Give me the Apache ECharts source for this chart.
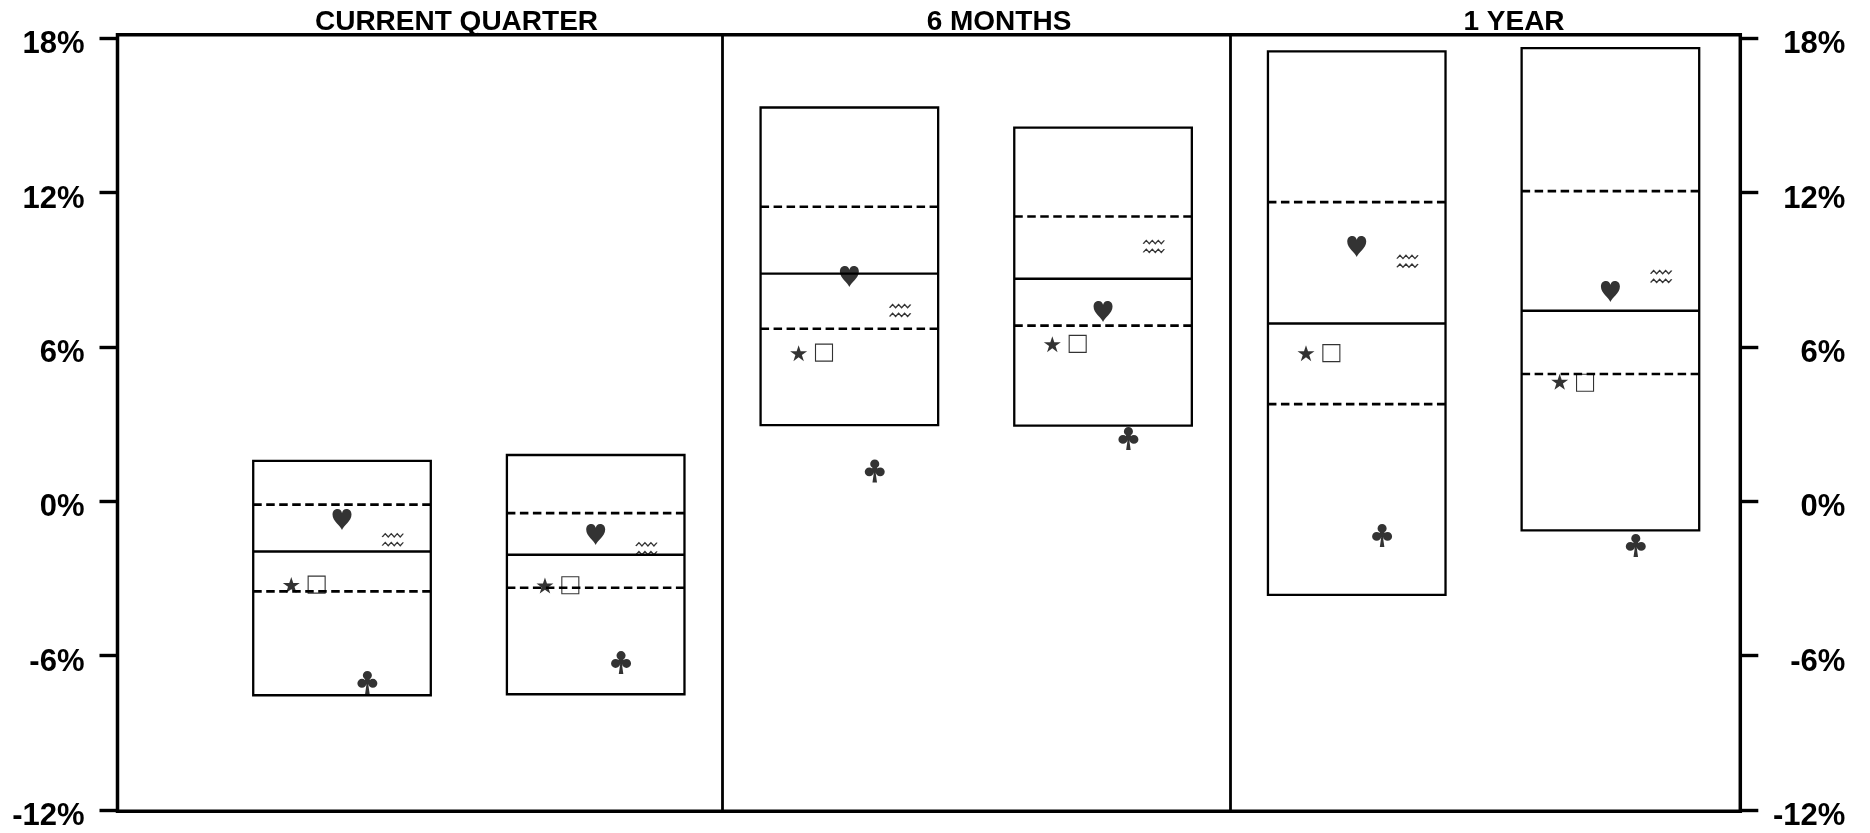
<!DOCTYPE html>
<html>
<head>
<meta charset="utf-8">
<script src="https://cdn.jsdelivr.net/npm/echarts@6/dist/echarts.min.js"></script>
<style>
  html, body { margin: 0; padding: 0; background: #fff; }
  #chart { width: 1870px; height: 833px; }
</style>
</head>
<body>
<div id="chart"></div>
<script>
// ---------- data ----------
const periods = ['CURRENT QUARTER', '6 MONTHS', '1 YEAR'];
const boxX = [1, 2, 3, 4, 5, 6];               // two boxes per period
const p5  = [-7.54, -7.50, 2.96, 2.94, -3.64, -1.13];
const p25 = [-3.50, -3.36, 6.71, 6.83, 3.78, 4.95];
const p50 = [-1.95, -2.08, 8.85, 8.65, 6.91, 7.41];
const p75 = [-0.13, -0.46, 11.45, 11.07, 11.63, 12.06];
const p95 = [1.57, 1.80, 15.31, 14.53, 17.49, 17.62];

const heartVals  = [-0.71, -1.29, 8.74, 7.38, 9.91, 8.16];
const waveVals   = [-1.49, -1.84, 7.42, 9.91, 9.33, 8.74];
const starVals   = [-3.25, -3.27, 5.76, 6.11, 5.76, 4.65];
const squareVals = [-3.24, -3.26, 5.78, 6.12, 5.76, 4.61];
const clubVals   = [-7.04, -6.27, 1.18, 2.44, -1.33, -1.72];

const yMin = -12, yMax = 18, yStep = 6;
const sectionBreaks = [2.5, 4.5];

// ---------- layout / style ----------
const FONT = '"Liberation Sans", Arial, Helvetica, sans-serif';
const X_MIN = 0.115, X_MAX = 6.512;
const BOX_W = 0.7;
const OFF = { star: -0.2, square: -0.1, heart: 0, club: 0.1, wave: 0.2 };
const TITLE_X = [456.5, 999, 1514];

const HEART = 'path://M50,100 C44,80 4,60 4,27 C4,9 16,1 29,1 C40,1 47,9 50,19 C53,9 60,1 71,1 C84,1 96,9 96,27 C96,60 56,80 50,100 Z';
const CLUB = 'path://M30,24 A20,20 0 1 0 70,24 A20,20 0 1 0 30,24 Z M6,60 A20,20 0 1 0 46,60 A20,20 0 1 0 6,60 Z M54,60 A20,20 0 1 0 94,60 A20,20 0 1 0 54,60 Z M40,32 L37,64 L63,64 L60,32 Z M47,56 L40,108 L60,108 L53,56 Z';
const STAR = 'path://M50,0 L61.2,34.5 L97.6,34.5 L68.2,55.9 L79.4,90.5 L50,69.1 L20.6,90.5 L31.8,55.9 L2.4,34.5 L38.8,34.5 Z';
const WAVE = 'path://M0,4 L3,1 L6,4 L9,1 L12,4 L15,1 L18,4 L21,1 M0,12 L3,9 L6,12 L9,9 L12,12 L15,9 L18,12 L21,9';

function pts(vals, off) { return vals.map((v, i) => [boxX[i] + off, v]); }

const boxData = boxX.map((x, i) => [x, p5[i], p25[i], p50[i], p75[i], p95[i]]);

function renderBox(params, api) {
  const x = api.value(0);
  const half = api.size([BOX_W, 0])[0] / 2;
  const c = api.coord([x, 0])[0];
  const yb = api.coord([x, api.value(1)])[1];
  const y25 = api.coord([x, api.value(2)])[1];
  const y50 = api.coord([x, api.value(3)])[1];
  const y75 = api.coord([x, api.value(4)])[1];
  const yt = api.coord([x, api.value(5)])[1];
  const l = c - half, r = c + half;
  const solid = { stroke: '#000', lineWidth: 2.4 };
  const dashed = { stroke: '#000', lineWidth: 2.6, lineDash: [8.5, 4.5] };
  return {
    type: 'group',
    children: [
      { type: 'rect', shape: { x: l, y: yt, width: r - l, height: yb - yt }, style: { stroke: '#000', lineWidth: 2.3, fill: 'transparent' } },
      { type: 'line', shape: { x1: l, y1: y75, x2: r, y2: y75 }, style: dashed },
      { type: 'line', shape: { x1: l, y1: y25, x2: r, y2: y25 }, style: dashed },
      { type: 'line', shape: { x1: l, y1: y50, x2: r, y2: y50 }, style: solid }
    ]
  };
}

const labelRich = { t: { fontSize: 31, fontWeight: 'bold', fontFamily: FONT, color: '#000', padding: [13, 0, 0, 0] } };
const axisLabelBase = {
  formatter: v => '{t|' + v + '%}', rich: labelRich, color: '#000', fontSize: 31, fontWeight: 'bold', fontFamily: FONT
};

const chart = echarts.init(document.getElementById('chart'), null, { renderer: 'canvas' });

const option = {
  animation: false,
  backgroundColor: '#fff',
  grid: [
    { left: 117.5, right: 129.7, top: 38.3, bottom: 23, containLabel: false },
    { left: 117.5, right: 129.7, top: 34.7, bottom: 21.7, show: true, borderColor: '#000', borderWidth: 3.5, backgroundColor: 'transparent', containLabel: false }
  ],
  xAxis: [
    { type: 'value', gridIndex: 0, min: X_MIN, max: X_MAX, show: false },
    { type: 'value', gridIndex: 1, min: X_MIN, max: X_MAX, show: false }
  ],
  yAxis: [
    {
      type: 'value', gridIndex: 0, position: 'left', min: yMin, max: yMax, interval: yStep,
      axisLine: { show: false },
      axisTick: { show: true, inside: false, length: 18, lineStyle: { color: '#000', width: 3.4 } },
      splitLine: { show: false },
      axisLabel: Object.assign({}, axisLabelBase, { margin: 33 })
    },
    {
      type: 'value', gridIndex: 0, position: 'right', min: yMin, max: yMax, interval: yStep,
      axisLine: { show: false },
      axisTick: { show: true, inside: false, length: 18, lineStyle: { color: '#000', width: 3.4 } },
      splitLine: { show: false },
      axisLabel: Object.assign({}, axisLabelBase, { margin: 105, align: 'right' })
    },
    { type: 'value', gridIndex: 1, min: 0, max: 1, show: false }
  ],
  graphic: periods.map((t, i) => ({
    type: 'text', x: TITLE_X[i], y: 22.5, z: 10,
    style: { text: t, fill: '#000', font: 'bold 28px ' + FONT, align: 'center', verticalAlign: 'middle', textAlign: 'center', textVerticalAlign: 'middle' }
  })),
  series: [
    {
      type: 'line', xAxisIndex: 1, yAxisIndex: 2, data: [], silent: true,
      markLine: {
        silent: true, symbol: 'none', label: { show: false },
        lineStyle: { color: '#000', width: 2.8, type: 'solid' },
        data: sectionBreaks.map(v => ({ xAxis: v }))
      }
    },
    {
      type: 'custom', xAxisIndex: 0, yAxisIndex: 0, renderItem: renderBox,
      data: boxData, encode: { x: 0, y: [1, 2, 3, 4, 5] }, z: 2
    },
    {
      type: 'scatter', name: 'heart', symbol: HEART, symbolSize: [19, 21],
      itemStyle: { color: '#000' }, data: pts(heartVals, OFF.heart), z: 5
    },
    {
      type: 'scatter', name: 'club', symbol: CLUB, symbolSize: [20, 23],
      itemStyle: { color: '#000' }, data: pts(clubVals, OFF.club), z: 5
    },
    {
      type: 'scatter', name: 'star', symbol: STAR, symbolSize: [17, 16],
      itemStyle: { color: '#000' }, data: pts(starVals, OFF.star), z: 5
    },
    {
      type: 'scatter', name: 'square', symbol: 'rect', symbolSize: [17, 17],
      itemStyle: { color: 'transparent', borderColor: '#000', borderWidth: 1.1 }, data: pts(squareVals, OFF.square), z: 5
    },
    {
      type: 'scatter', name: 'wave', symbol: WAVE, symbolSize: [21, 12],
      itemStyle: { color: 'transparent', borderColor: '#000', borderWidth: 1.2 }, data: pts(waveVals, OFF.wave), z: 5
    }
  ]
};
chart.setOption(option);
</script>
</body>
</html>
